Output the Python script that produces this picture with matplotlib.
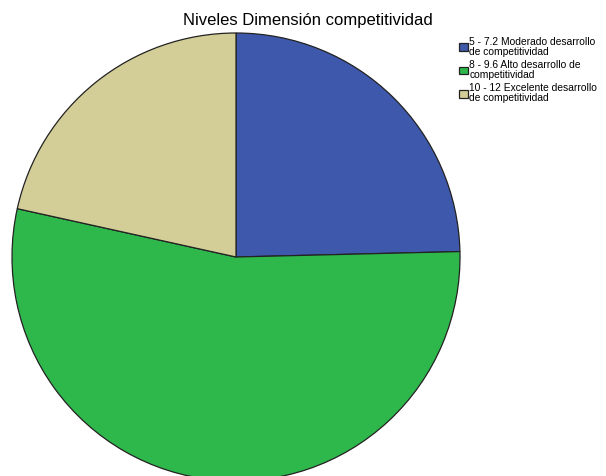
import matplotlib.pyplot as plt

plt.rcParams['font.family'] = ['Liberation Sans', 'DejaVu Sans']

categories = ['5 - 7.2 Moderado desarrollo\nde competitividad',
              '8 - 9.6 Alto desarrollo de\ncompetitividad',
              '10 - 12 Excelente desarrollo\nde competitividad']
counts = [16, 35, 14]
colors = ['#3e58ac', '#2eb84c', '#d3ce97']

fig = plt.figure(figsize=(6.06, 4.76), dpi=100)
ax = fig.add_axes([0, 0, 1, 1])
ax.set_xlim(0, 606)
ax.set_ylim(0, 476)
ax.set_aspect('equal')
ax.axis('off')

wedges, _ = ax.pie(counts, colors=colors, startangle=90, counterclock=False,
                   center=(236, 476 - 257), radius=224,
                   wedgeprops=dict(edgecolor='#222222', linewidth=0.9))
ax.set_xlim(0, 606)
ax.set_ylim(0, 476)

fig.text(308 / 606, 1 - 25 / 476, 'Niveles Dimensión competitividad',
         ha='center', va='baseline', fontsize=12)

leg = fig.legend(wedges, categories, loc='upper left',
                 bbox_to_anchor=(459 / 606, 1 - 37 / 476), frameon=False,
                 fontsize=7.4, handlelength=0.9, handleheight=0.8,
                 handletextpad=0.1, labelspacing=0.3, borderaxespad=0,
                 borderpad=0)
for t in leg.get_texts():
    t.set_linespacing(1.0)

fig.savefig('out.png', dpi=100)
